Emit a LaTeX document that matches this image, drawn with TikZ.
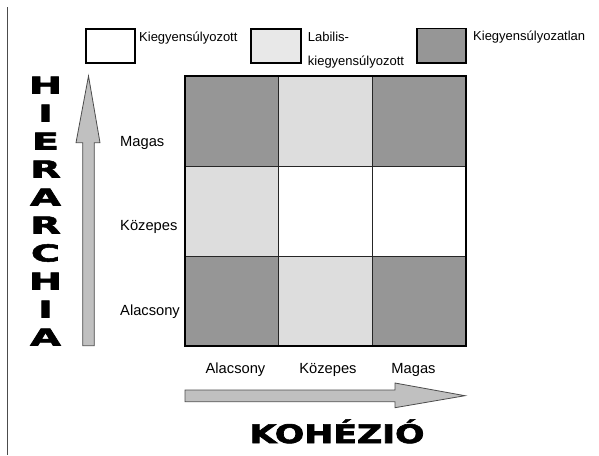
\documentclass[tikz,border=0pt]{standalone}
\usepackage{fontspec}
\setmainfont{Liberation Sans}
\newfontfamily\heavyfont{DejaVu Sans}[BoldFont=* Bold,BoldFeatures={FakeBold=2.2}]
\definecolor{darkcell}{HTML}{969696}
\definecolor{lightcell}{HTML}{DDDDDD}
\definecolor{lightlegend}{HTML}{E8E8E8}
\definecolor{arrowfill}{HTML}{C0C0C0}
\begin{document}
\begin{tikzpicture}[x=1pt,y=-1pt,
  legendbox/.style={draw=black,line width=1.6pt},
  legendtext/.style={anchor=base west,inner sep=0,font=\fontsize{13}{15}\selectfont},
  axislabel/.style={inner sep=0,font=\fontsize{14.7}{17}\selectfont},
  cell/.style={draw=black!85,line width=0.8pt},
  bigarrow/.style={draw=black!70,line width=0.8pt,fill=arrowfill},
  heavyletter/.style={inner sep=0,font=\heavyfont\bfseries\fontsize{23.3}{24}\selectfont}]
\useasboundingbox (0,0) rectangle (599,455);
% left rule
\draw[black!70,line width=1pt] (7.3,7) -- (7.3,455);
% legend
\draw[legendbox,fill=white] (85.7,29) rectangle (135,63);
\node[legendtext] (l1) at (139,41) {Kiegyens\'ulyozott};
\draw[legendbox,fill=lightlegend] (251,29) rectangle (301,63);
\node[legendtext] (l2a) at (307.7,41) {Labilis-};
\node[legendtext] (l2b) at (307.7,65) {kiegyens\'ulyozott};
\draw[legendbox,fill=darkcell] (416.7,28.5) rectangle (465.7,63);
\node[legendtext] (l3) at (473,40) {Kiegyens\'ulyozatlan};
% grid
\fill[darkcell] (185,76) rectangle (278.7,166);
\fill[lightcell] (278.7,76) rectangle (372,166);
\fill[darkcell] (372,76) rectangle (466,166);
\fill[lightcell] (185,166) rectangle (278.7,256);
\fill[white] (278.7,166) rectangle (372,256);
\fill[white] (372,166) rectangle (466,256);
\fill[darkcell] (185,256) rectangle (278.7,346);
\fill[lightcell] (278.7,256) rectangle (372,346);
\fill[darkcell] (372,256) rectangle (466,346);
\draw[cell] (278.7,76) -- (278.7,346) (372,76) -- (372,346)
  (185,166) -- (466,166) (185,256) -- (466,256);
\draw[black,line width=1.8pt] (185,76) rectangle (466,346);
% row labels
\node[axislabel,anchor=base west] (rH) at (120,146) {Magas};
\node[axislabel,anchor=base west] (rM) at (120,230) {K\"ozepes};
\node[axislabel,anchor=base west] (rL) at (120,315.5) {Alacsony};
% column labels
\node[axislabel,anchor=base] (cL) at (235.5,373) {Alacsony};
\node[axislabel,anchor=base] (cM) at (328,373) {K\"ozepes};
\node[axislabel,anchor=base] (cH) at (413.5,373) {Magas};
% arrows
\draw[bigarrow] (82.7,345.7) -- (82.7,142.7) -- (76,142.7) -- (88.5,76)
  -- (100,142.7) -- (94.3,142.7) -- (94.3,345.7) -- cycle;
\draw[bigarrow] (185,390) -- (395,390) -- (395,383) -- (465,395.7)
  -- (395,407.7) -- (395,401.7) -- (185,401.7) -- cycle;
% HIERARCHIA
\foreach \ch [count=\i from 0] in {H,I,E,R,A,R,C,H,I,A}{
  \node[heavyletter] (h\i) at (45.5,85+28*\i) {\scalebox{1.7}[1]{\ch}};
}
% KOHEZIO
\node[heavyletter,anchor=base,font=\heavyfont\bfseries\fontsize{25.5}{27}\selectfont] (koh) at (337,443) {\scalebox{1.36}[1]{KOH\'EZI\'O}};
\end{tikzpicture}
\end{document}
